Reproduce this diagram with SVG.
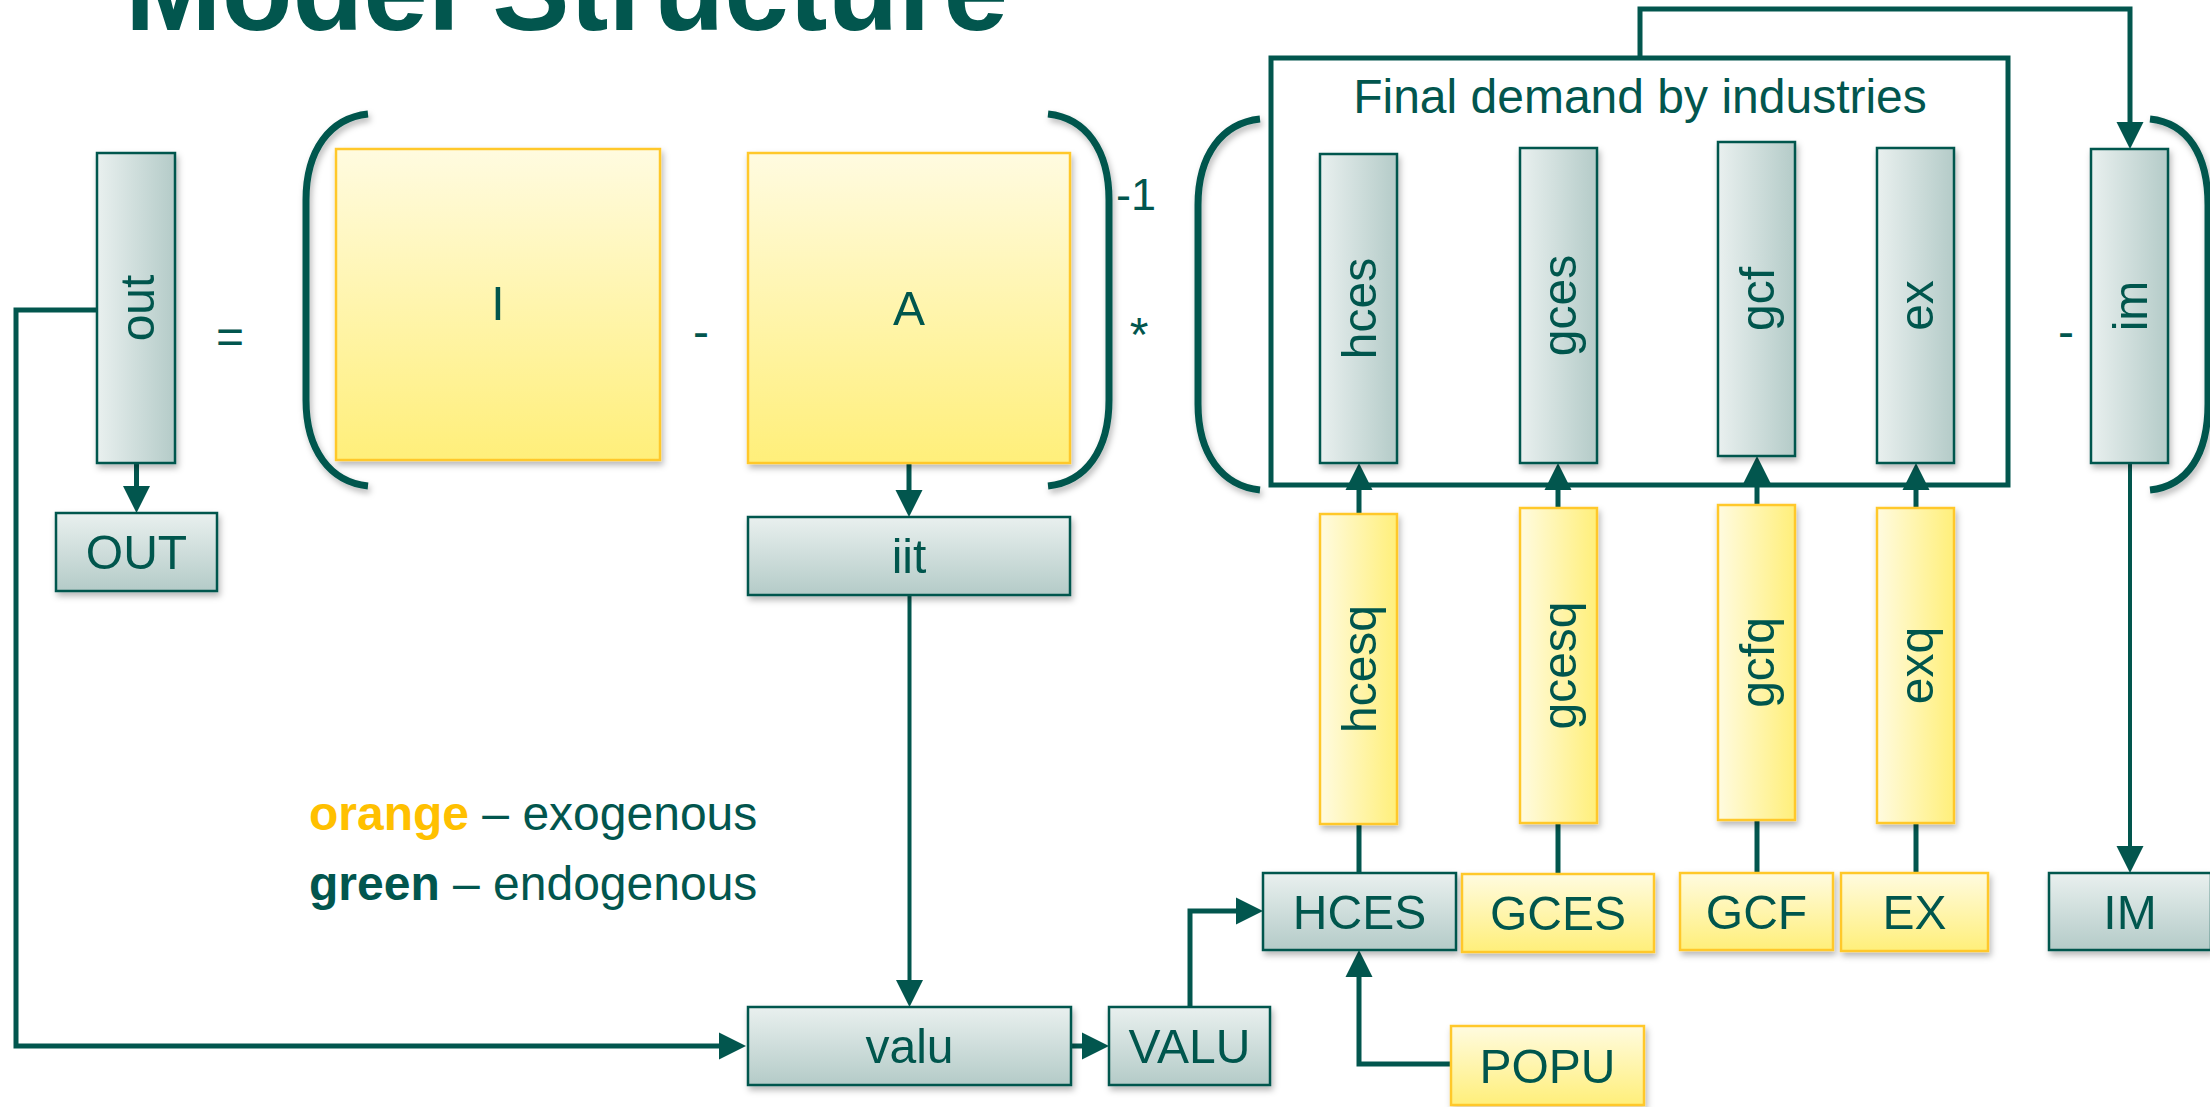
<svg xmlns="http://www.w3.org/2000/svg" width="2210" height="1107" viewBox="0 0 2210 1107">
<style>
  text { font-family: "Liberation Sans", Arial, sans-serif; fill: #02564E; }
  .lbl { font-size: 48px; text-anchor: middle; }
  .g { stroke: #02564E; stroke-width: 2.5; }
  .y { stroke: #FFC82C; stroke-width: 2.5; }
  .gv { fill: url(#gradGV); }
  .gh { fill: url(#gradGH); }
  .yv { fill: url(#gradYV); }
  .yh { fill: url(#gradYH); }
  .conn { fill: none; stroke: #02564E; stroke-width: 5; }
  .thin { stroke-width: 4; }
  .arr { marker-end: url(#ah); }
  .br { fill: none; stroke: #02564E; stroke-width: 7; stroke-linecap: butt; }
  .sh { filter: url(#shadow); }
</style>
<defs>
  <linearGradient id="gradGV" x1="0" y1="0" x2="0" y2="1">
    <stop offset="0" stop-color="#E9F0EF"/>
    <stop offset="1" stop-color="#B4CBC8"/>
  </linearGradient>
  <linearGradient id="gradGH" x1="0" y1="0" x2="1" y2="0">
    <stop offset="0" stop-color="#E9F0EF"/>
    <stop offset="1" stop-color="#B4CBC8"/>
  </linearGradient>
  <linearGradient id="gradYV" x1="0" y1="0" x2="0" y2="1">
    <stop offset="0" stop-color="#FFFBE0"/>
    <stop offset="1" stop-color="#FFEF7A"/>
  </linearGradient>
  <linearGradient id="gradYH" x1="0" y1="0" x2="1" y2="0">
    <stop offset="0" stop-color="#FFFBE0"/>
    <stop offset="1" stop-color="#FFEF7A"/>
  </linearGradient>
  <filter id="shadow" x="-20%" y="-20%" width="140%" height="140%">
    <feDropShadow dx="2" dy="4" stdDeviation="3" flood-color="#000" flood-opacity="0.28"/>
  </filter>
  <marker id="ah" markerUnits="userSpaceOnUse" markerWidth="28" markerHeight="28" viewBox="0 0 28 28" refX="17" refY="14" orient="auto">
    <path d="M0,0.5 L27,14 L0,27.5 Z" fill="#02564E"/>
  </marker>
</defs>

<text x="125" y="30" font-size="116" font-weight="bold">Model Structure</text>

<!-- connectors -->
<g id="connectors">
  <path class="conn arr" d="M136.5,463 L136.5,503"/>
  <path class="conn arr" d="M97,310 L16,310 L16,1046 L736,1046"/>
  <path class="conn arr" d="M909,463 L909,507"/>
  <path class="conn thin arr" d="M909.5,595 L909.5,997"/>
  <path class="conn arr" d="M1071,1046 L1099,1046"/>
  <path class="conn arr" d="M1190,1007 L1190,911 L1253,911"/>
  <path class="conn arr" d="M1451,1064 L1359,1064 L1359,960"/>
  <path class="conn arr" d="M1359,514 L1359,473"/>
  <path class="conn" d="M1359,873 L1359,824"/>
  <path class="conn arr" d="M1558,508 L1558,473"/>
  <path class="conn" d="M1558,874 L1558,823"/>
  <path class="conn arr" d="M1757,505 L1757,466"/>
  <path class="conn" d="M1757,873 L1757,820"/>
  <path class="conn arr" d="M1916,508 L1916,473"/>
  <path class="conn" d="M1916,873 L1916,823"/>
  <path class="conn arr" d="M1640,58 L1640,9 L2130,9 L2130,139"/>
  <path class="conn thin arr" d="M2130,463 L2130,863"/>
</g>

<!-- brackets -->
<g id="brackets" class="sh">
  <path class="br" d="M368,114 C330,118 306,150 306,200 L306,400 C306,450 330,482 368,486"/>
  <path class="br" d="M1048,114 C1086,118 1109,150 1109,200 L1109,400 C1109,450 1086,482 1048,486"/>
  <path class="br" d="M1260,119 C1222,123 1198,155 1198,205 L1198,404 C1198,454 1222,486 1260,490"/>
  <path class="br" d="M2150,119 C2188,123 2208,155 2208,205 L2208,404 C2208,454 2188,486 2150,490"/>
</g>

<!-- operators -->
<g id="operators">
  <text class="lbl" x="230" y="353">=</text>
  <text class="lbl" x="701" y="348">-</text>
  <text x="1116" y="210" font-size="45">-1</text>
  <text class="lbl" x="1139" y="351">*</text>
  <text class="lbl" x="2066" y="348">-</text>
</g>

<!-- Final demand group box -->
<g id="final-demand">
  <rect x="1271" y="58" width="737" height="427" fill="none" stroke="#02564E" stroke-width="5"/>
  <text class="lbl" x="1640" y="113">Final demand by industries</text>
</g>

<g id="node-out" class="sh"><rect class="g gh" x="97" y="153" width="78" height="310"/>
  <text class="lbl" transform="translate(136,308) rotate(-90)" dy="0.37em">out</text></g>
<g id="node-OUT" class="sh"><rect class="g gv" x="56" y="513" width="161" height="78"/>
  <text class="lbl" x="136.5" y="552" dy="0.36em">OUT</text></g>
<g id="node-I" class="sh"><rect class="y yv" x="336" y="149" width="324" height="311"/>
  <text class="lbl" x="498" y="304" dy="0.34em">I</text></g>
<g id="node-A" class="sh"><rect class="y yv" x="748" y="153" width="322" height="310"/>
  <text class="lbl" x="909" y="308" dy="0.36em">A</text></g>
<g id="node-iit" class="sh"><rect class="g gv" x="748" y="517" width="322" height="78"/>
  <text class="lbl" x="909" y="556" dy="0.36em">iit</text></g>
<g id="node-valu" class="sh"><rect class="g gv" x="748" y="1007" width="323" height="78"/>
  <text class="lbl" x="909.5" y="1046" dy="0.36em">valu</text></g>
<g id="node-VALU" class="sh"><rect class="g gv" x="1109" y="1007" width="161" height="78"/>
  <text class="lbl" x="1189.5" y="1046" dy="0.36em">VALU</text></g>

<g id="node-hces" class="sh"><rect class="g gh" x="1320" y="154" width="77" height="309"/>
  <text class="lbl" transform="translate(1358.5,308.5) rotate(-90)" dy="0.37em">hces</text></g>
<g id="node-gces" class="sh"><rect class="g gh" x="1520" y="148" width="77" height="315"/>
  <text class="lbl" transform="translate(1558.5,305.5) rotate(-90)" dy="0.37em">gces</text></g>
<g id="node-gcf" class="sh"><rect class="g gh" x="1718" y="142" width="77" height="314"/>
  <text class="lbl" transform="translate(1756.5,299) rotate(-90)" dy="0.37em">gcf</text></g>
<g id="node-ex" class="sh"><rect class="g gh" x="1877" y="148" width="77" height="315"/>
  <text class="lbl" transform="translate(1915.5,305.5) rotate(-90)" dy="0.37em">ex</text></g>
<g id="node-im" class="sh"><rect class="g gh" x="2091" y="149" width="77" height="314"/>
  <text class="lbl" transform="translate(2129.5,306) rotate(-90)" dy="0.37em">im</text></g>

<g id="node-hcesq" class="sh"><rect class="y yh" x="1320" y="514" width="77" height="310"/>
  <text class="lbl" transform="translate(1358.5,669) rotate(-90)" dy="0.37em">hcesq</text></g>
<g id="node-gcesq" class="sh"><rect class="y yh" x="1520" y="508" width="77" height="315"/>
  <text class="lbl" transform="translate(1558.5,665.5) rotate(-90)" dy="0.37em">gcesq</text></g>
<g id="node-gcfq" class="sh"><rect class="y yh" x="1718" y="505" width="77" height="315"/>
  <text class="lbl" transform="translate(1756.5,662.5) rotate(-90)" dy="0.37em">gcfq</text></g>
<g id="node-exq" class="sh"><rect class="y yh" x="1877" y="508" width="77" height="315"/>
  <text class="lbl" transform="translate(1915.5,665.5) rotate(-90)" dy="0.37em">exq</text></g>

<g id="node-HCES" class="sh"><rect class="g gv" x="1263" y="873" width="193" height="77"/>
  <text class="lbl" x="1359.5" y="911.5" dy="0.36em">HCES</text></g>
<g id="node-GCES" class="sh"><rect class="y yv" x="1462" y="874" width="192" height="78"/>
  <text class="lbl" x="1558" y="913" dy="0.36em">GCES</text></g>
<g id="node-GCF" class="sh"><rect class="y yv" x="1680" y="873" width="153" height="77"/>
  <text class="lbl" x="1756.5" y="911.5" dy="0.36em">GCF</text></g>
<g id="node-EX" class="sh"><rect class="y yv" x="1841" y="873" width="147" height="78"/>
  <text class="lbl" x="1914.5" y="912" dy="0.36em">EX</text></g>
<g id="node-IM" class="sh"><rect class="g gv" x="2049" y="873" width="162" height="77"/>
  <text class="lbl" x="2130" y="911.5" dy="0.36em">IM</text></g>
<g id="node-POPU" class="sh"><rect class="y yv" x="1451" y="1026" width="193" height="79"/>
  <text class="lbl" x="1547.5" y="1065.5" dy="0.36em">POPU</text></g>

<g id="legend">
  <text x="309" y="830" font-size="48"><tspan font-weight="bold" fill="#FFC000">orange</tspan> – exogenous</text>
  <text x="309" y="900" font-size="48"><tspan font-weight="bold">green</tspan> – endogenous</text>
</g>
</svg>
